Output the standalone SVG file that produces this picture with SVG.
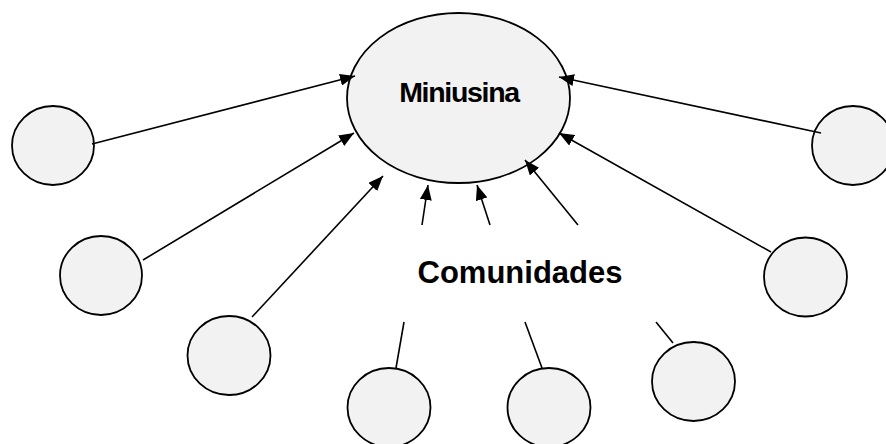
<svg xmlns="http://www.w3.org/2000/svg" width="886" height="444" viewBox="0 0 886 444">
<style>
.n{fill:#f2f2f2;stroke:#000;stroke-width:1.8}
.c line{stroke:#000;stroke-width:1.6}
.t{font-family:"Liberation Sans",Arial,sans-serif;font-weight:bold;fill:#000;text-anchor:middle}
</style>
<defs>
<marker id="ah" markerUnits="userSpaceOnUse" markerWidth="15" markerHeight="12" refX="15" refY="6" orient="auto">
<path d="M0,0 L15,6 L0,12 Z" fill="#000"/>
</marker>
</defs>
<rect width="886" height="444" fill="#fff"/>
<g id="miniusina">
<ellipse class="n" cx="458.5" cy="98" rx="111.5" ry="85"/>
<text class="t" x="459" y="102" font-size="28.5" letter-spacing="-1.3">Miniusina</text>
</g>
<g id="comunidades">
<text class="t" x="520" y="283" font-size="31">Comunidades</text>
</g>
<g id="n1"><ellipse class="n" cx="53" cy="145.5" rx="41" ry="39.5"/></g>
<g id="n2"><ellipse class="n" cx="101" cy="275.5" rx="41" ry="39.5"/></g>
<g id="n3"><ellipse class="n" cx="229" cy="355.5" rx="41.5" ry="39.5"/></g>
<g id="n4"><ellipse class="n" cx="389" cy="407.5" rx="41.5" ry="39.5"/></g>
<g id="n5"><ellipse class="n" cx="549" cy="407.5" rx="41.5" ry="39.5"/></g>
<g id="n6"><ellipse class="n" cx="693.5" cy="381.5" rx="41.5" ry="39.5"/></g>
<g id="n7"><ellipse class="n" cx="805.5" cy="277" rx="41.5" ry="39.5"/></g>
<g id="n8"><ellipse class="n" cx="853" cy="145.5" rx="41" ry="39.5"/></g>
<g class="c" id="connectors">
<line x1="92" y1="144" x2="355" y2="76" marker-end="url(#ah)"/>
<line x1="143" y1="260" x2="354" y2="133" marker-end="url(#ah)"/>
<line x1="252" y1="317" x2="383" y2="176" marker-end="url(#ah)"/>
<line x1="422" y1="225" x2="428" y2="185" marker-end="url(#ah)"/>
<line x1="490" y1="225" x2="477" y2="185" marker-end="url(#ah)"/>
<line x1="578" y1="225" x2="525" y2="160" marker-end="url(#ah)"/>
<line x1="771" y1="252" x2="559" y2="133" marker-end="url(#ah)"/>
<line x1="821" y1="133" x2="559" y2="77" marker-end="url(#ah)"/>
<line x1="396" y1="368" x2="404" y2="322"/>
<line x1="542" y1="368" x2="525" y2="322"/>
<line x1="673" y1="343" x2="656" y2="322"/>
</g>
</svg>
